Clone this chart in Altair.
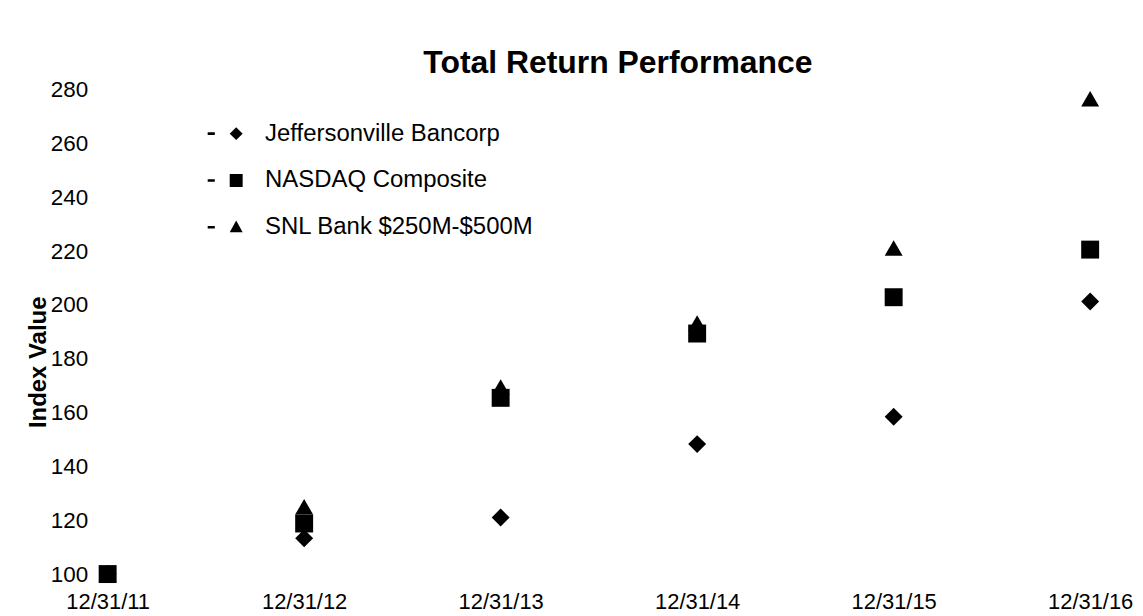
import altair as alt
import pandas as pd

dates = ["12/31/11", "12/31/12", "12/31/13", "12/31/14", "12/31/15", "12/31/16"]
series_names = ["Jeffersonville Bancorp", "NASDAQ Composite", "SNL Bank $250M-$500M"]
jefferson = [100, 113.3, 121.0, 148.3, 158.5, 201.3]
nasdaq = [100, 118.8, 165.5, 189.4, 202.9, 220.6]
snl = [100, 125.0, 169.5, 193.3, 221.2, 276.7]
y_ticks = [100, 120, 140, 160, 180, 200, 220, 240, 260, 280]

rows = []
draw_order = [(series_names[2], snl), (series_names[0], jefferson), (series_names[1], nasdaq)]
for k, (name, vals) in enumerate(draw_order):
    for d, v in zip(dates, vals):
        rows.append({"date": d, "series": name, "value": v, "z": k})
df = pd.DataFrame(rows)

FONT = "Liberation Sans"

x_enc = alt.X("date:O", sort=dates, scale=alt.Scale(padding=0),
              axis=alt.Axis(title=None, labelAngle=0, domain=False, ticks=False, grid=False,
                            labelFontSize=22, labelFont=FONT, labelColor="black", labelPadding=18))
y_enc = alt.Y("value:Q", scale=alt.Scale(domain=[100, 280], nice=False, zero=False),
              axis=alt.Axis(title="Index Value", values=y_ticks, domain=False, ticks=False, grid=False,
                            labelFontSize=22.5, labelFont=FONT, labelColor="black", labelPadding=20,
                            titleFontSize=24, titleFont=FONT, titleFontWeight="bold", titleColor="black",
                            titleX=-69, titleY=273, titleAngle=270, titleAlign="center",
                            titleBaseline="middle"))

points = alt.Chart(df).mark_point(filled=True, opacity=1, color="black", size=324).encode(
    x=x_enc,
    y=y_enc,
    shape=alt.Shape("series:N",
                    scale=alt.Scale(domain=series_names, range=["diamond", "square", "triangle-up"]),
                    legend=None),
    order=alt.Order("z:Q"),
)

dash = "M-4.4,-0.2H-3.3V0.2H-4.4Z "
legend_paths = [
    dash + "M0,-1L1,0L0,1L-1,0Z",
    dash + "M-1,-1H1V1H-1Z",
    dash + "M0,-1.05L1,0.75L-1,0.75Z",
]

legend_layer = alt.Chart(df).mark_point(filled=True, opacity=0, color="black", size=169).encode(
    x=x_enc,
    y=y_enc,
    shape=alt.Shape("series:N",
                    scale=alt.Scale(domain=series_names, range=legend_paths),
                    legend=alt.Legend(title=None, orient="none", legendX=117, legendY=32,
                                      labelFontSize=24, labelFont=FONT, labelColor="black",
                                      labelLimit=0, symbolSize=169, symbolOpacity=1,
                                      symbolFillColor="black", symbolStrokeColor="black",
                                      symbolStrokeWidth=0,
                                      rowPadding=23, labelOffset=17, padding=0)),
)

chart = alt.layer(points, legend_layer).resolve_scale(shape="independent").properties(
    width=986, height=486,
    padding={"left": 100, "top": 81, "right": 45, "bottom": 39},
    autosize=alt.AutoSizeParams(type="none"),
    background="white",
    title=alt.Title("Total Return Performance", fontSize=32, font=FONT, fontWeight="bold",
                    color="black", anchor="middle", dx=19, dy=15, offset=14),
).configure_view(strokeWidth=0)

chart.save("out.html", embed_options={"renderer": "svg", "actions": False})
